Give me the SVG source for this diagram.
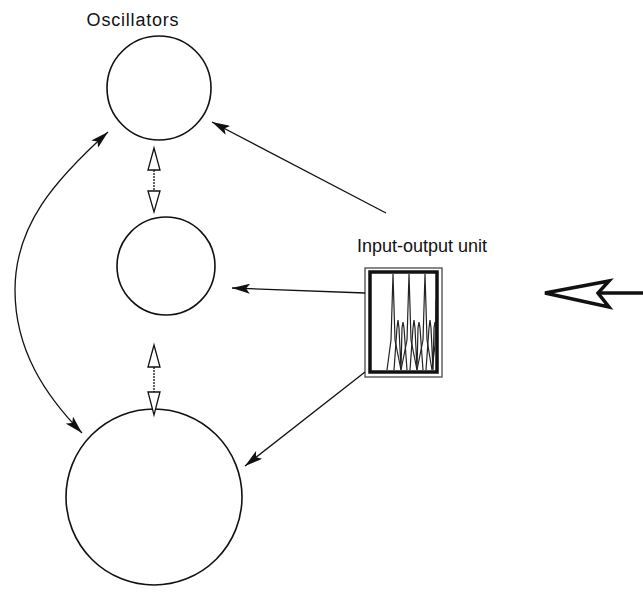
<svg xmlns="http://www.w3.org/2000/svg" width="643" height="594" viewBox="0 0 643 594">
  <defs>
    <marker id="solid" viewBox="0 0 18 10" refX="18" refY="5" markerWidth="18" markerHeight="10" markerUnits="userSpaceOnUse" orient="auto">
      <path d="M0,0 L18,5 L0,10 L4,5 Z" fill="#111"/>
    </marker>
    <marker id="solid-start" viewBox="0 0 18 10" refX="0" refY="5" markerWidth="18" markerHeight="10" markerUnits="userSpaceOnUse" orient="auto">
      <path d="M18,0 L0,5 L18,10 L14,5 Z" fill="#111"/>
    </marker>
  </defs>
  <style>
    .osc { fill: none; stroke: #111; stroke-width: 1.6; }
    .label { font-family: "Liberation Sans", Arial, sans-serif; font-size: 18px; fill: #111; }
    .conn { fill: none; stroke: #111; stroke-width: 1.3; }
    .open { fill: #fff; stroke: #111; stroke-width: 1.3; stroke-linejoin: miter; }
    .shaft { stroke: #111; stroke-width: 1.3; stroke-dasharray: 2 1; }
    .frame-outer { fill: none; stroke: #555; stroke-width: 1.4; }
    .frame-inner { fill: none; stroke: #111; stroke-width: 3.5; }
    .trace { fill: none; stroke: #222; stroke-width: 1.2; }
  </style>

  <rect width="643" height="594" fill="#fff"/>

  <!-- oscillator nodes -->
  <g id="oscillators-label">
    <text class="label" x="133" y="26" text-anchor="middle" letter-spacing="0.8">Oscillators</text>
  </g>
  <g id="osc-1">
    <circle class="osc" cx="159" cy="88" r="52"/>
  </g>
  <g id="osc-2">
    <circle class="osc" cx="166" cy="266" r="49"/>
  </g>
  <g id="osc-3">
    <circle class="osc" cx="154" cy="497" r="88"/>
  </g>

  <!-- input-output unit -->
  <g id="io-unit">
    <text class="label" x="422" y="252" text-anchor="middle">Input-output unit</text>
    <rect class="frame-outer" x="365" y="268" width="77" height="109"/>
    <rect class="frame-inner" x="370" y="272" width="67" height="100"/>
    <!-- tall resonance peaks -->
    <path class="trace" d="M387,370 L391,340 L393,274 L395,340 L401,370 L407,340 L409,274 L411,340 L417,370 L423,340 L425,274 L427,340 L432,370 L435,345 L436,300"/>
    <!-- lower peaks -->
    <path class="trace" d="M394,370 L397,328 L398,320 L399,328 L401,370 L402,328 L403,322 L404,328 L407,370
                           M410,370 L413,328 L414,320 L415,328 L417,370 L418,328 L419,322 L420,328 L423,370
                           M426,370 L429,328 L430,320 L431,328 L433,370 L434,328 L435,322 L436,330"/>
  </g>

  <!-- connectors -->
  <g id="connectors">
    <line class="conn" x1="386" y1="213" x2="212" y2="122" marker-end="url(#solid)"/>
    <line class="conn" x1="365" y1="293" x2="232" y2="288" marker-end="url(#solid)"/>
    <line class="conn" x1="365" y1="372" x2="245" y2="466" marker-end="url(#solid)"/>
    <path class="conn" d="M108,132 C55,180 15,225 15,290 C15,350 45,395 82,433" marker-start="url(#solid-start)" marker-end="url(#solid)"/>

    <!-- coupling between osc-1 and osc-2 -->
    <g id="couple-12">
      <line class="shaft" x1="154" y1="170" x2="154" y2="191"/>
      <polygon class="open" points="154,148 160,170 148,170"/>
      <polygon class="open" points="148,191 160,191 154,212"/>
    </g>
    <!-- coupling between osc-2 and osc-3 -->
    <g id="couple-23">
      <line class="shaft" x1="154" y1="367" x2="154" y2="392"/>
      <polygon class="open" points="154,345 160,367 148,367"/>
      <polygon class="open" points="148,392 160,392 154,415"/>
    </g>

    <!-- external input -->
    <g id="input-arrow">
      <line x1="598" y1="293" x2="643" y2="293" stroke="#111" stroke-width="3.5"/>
      <polygon points="545,293 609,281 598,293 609,307" fill="#fff" stroke="#111" stroke-width="3.5" stroke-linejoin="miter"/>
    </g>
  </g>
</svg>
